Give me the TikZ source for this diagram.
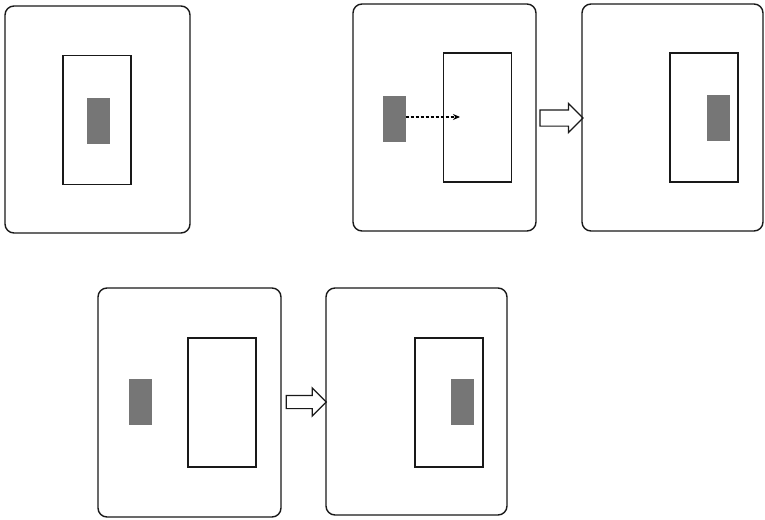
\documentclass[tikz,border=0pt]{standalone}
\usetikzlibrary{shapes.arrows,arrows.meta}
\definecolor{blockgray}{RGB}{118,118,118}
\begin{document}
\begin{tikzpicture}[x=1pt,y=-1pt,
  panel/.style={draw=black!90,line width=1.4pt,rounded corners=9pt,inner sep=0pt,outer sep=0pt,minimum width=#1},
  frame/.style={draw=black!90,line width=1.3pt,inner sep=0pt,outer sep=0pt,minimum width=68pt,minimum height=129pt},
  block/.style={fill=blockgray,draw=none,inner sep=0pt,outer sep=0pt,minimum width=23pt,minimum height=46pt},
  hollow/.style={draw=black!90,line width=1.2pt,single arrow,single arrow head extend=#1,inner xsep=0pt,outer sep=0pt,shape border rotate=0}
]
\useasboundingbox (0,0) rectangle (765,519);
% top-left panel
\node[panel=185pt,minimum height=227pt] (p1) at (97.5,119.5) {};
\node[frame] (f1) at (97,120) {};
\node[block] (b1) at (98,120.5) {};
% top-middle panel
\node[panel=183pt,minimum height=227pt] (p2) at (444.5,117.5) {};
\node[frame] (f2) at (477.5,117.5) {};
\node[block] (b2) at (394,119) {};
\coordinate (t2) at (460,117);
\draw[line width=1.3pt,dash pattern=on 3pt off 2pt,-{Stealth[length=7pt,width=6pt]}] (b2.east |- t2) -- (t2);
% arrow between top panels
\node[hollow=6.5pt,inner ysep=7.5pt,minimum height=43pt,minimum width=28pt] (a1) at (557.5,118) {};
% top-right panel
\node[panel=181pt,minimum height=227pt] (p3) at (672.5,117.5) {};
\node[frame] (f3) at (704,117.5) {};
\node[block] (b3) at (718.5,117.5) {};
% bottom-left panel
\node[panel=183pt,minimum height=229pt] (p4) at (189.5,402.5) {};
\node[frame] (f4) at (222,402.5) {};
\node[block] (b4) at (140,402) {};
% arrow between bottom panels
\node[hollow=7.5pt,inner ysep=6pt,minimum height=40pt,minimum width=27pt] (a2) at (303,402) {};
% bottom-right panel
\node[panel=181pt,minimum height=227pt] (p5) at (416.5,401.5) {};
\node[frame] (f5) at (449,402.5) {};
\node[block] (b5) at (462.5,402) {};
\end{tikzpicture}
\end{document}
